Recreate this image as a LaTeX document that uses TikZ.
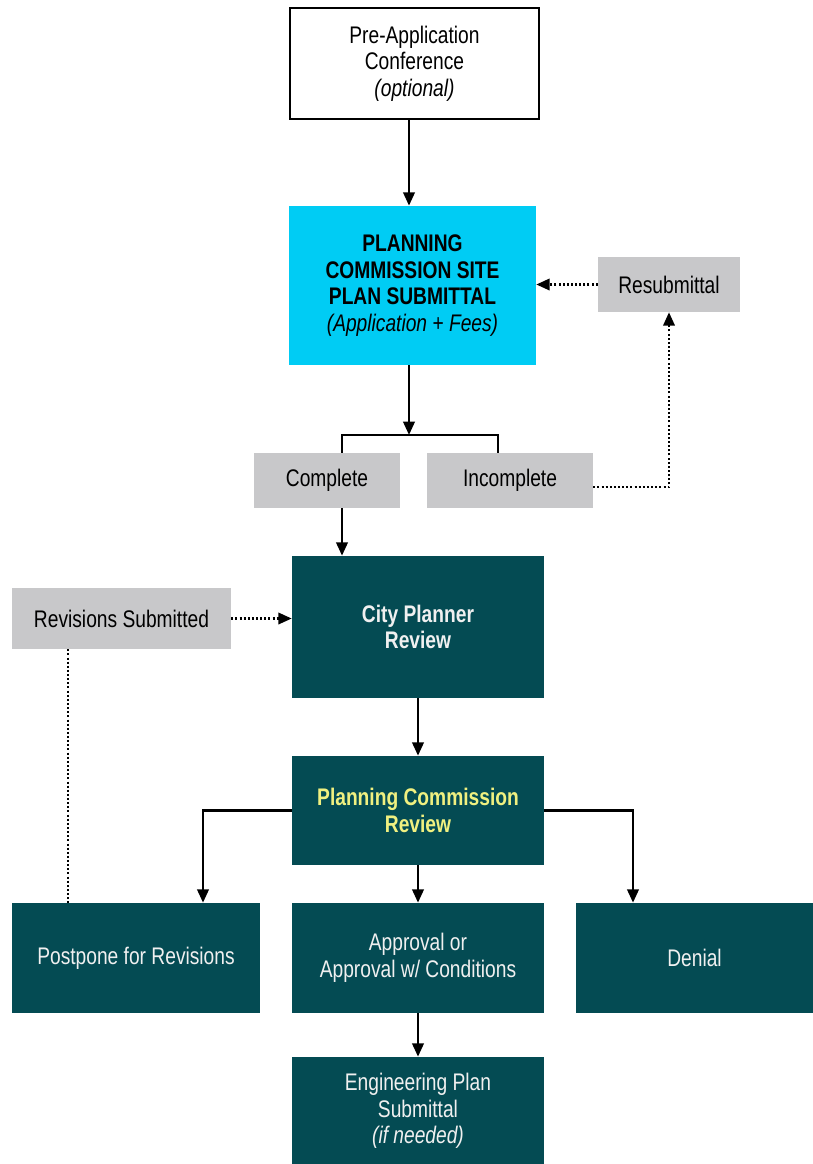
\documentclass[tikz,border=0pt]{standalone}
\usepackage{fontspec}
\setmainfont{Liberation Sans}[FakeStretch=0.8]
\usetikzlibrary{arrows.meta}
\definecolor{subblue}{HTML}{00CCF4}
\definecolor{deepteal}{HTML}{044B53}
\definecolor{boxgray}{HTML}{C8C8CA}
\definecolor{paleyellow}{HTML}{F0F080}
\begin{document}
\begin{tikzpicture}[x=0.75pt,y=-0.75pt,
    every node/.style={align=center,inner sep=0pt,font=\fontsize{18}{20}\selectfont},
    whitebox/.style={draw=black,line width=1.8pt,fill=white},
    bluebox/.style={fill=subblue},
    graybox/.style={fill=boxgray},
    tealbox/.style={fill=deepteal,text=white!94!black},
    arr/.style={line width=2pt,-{Triangle[length=10pt,width=8.5pt]}},
    link/.style={line width=2pt},
    dotarr/.style={line width=1.8pt,dash pattern=on 1.5pt off 1.6pt,-{Triangle[length=10pt,width=8.5pt]}},
    dotlink/.style={line width=1.8pt,dash pattern=on 1.5pt off 1.6pt}]
    \useasboundingbox (0,0) rectangle (813,1164);
    % boxes
    \node[whitebox,minimum width=186.75pt,minimum height=83.25pt] (pre) at (414.5,63.5)
        {Pre-Application\\Conference\\\textit{(optional)}};
    \node[bluebox,minimum width=185.25pt,minimum height=119.25pt] (sub) at (412.5,285.5)
        {\textbf{PLANNING}\\\textbf{COMMISSION SITE}\\\textbf{PLAN SUBMITTAL}\\\textit{(Application + Fees)}};
    \node[graybox,minimum width=106.5pt,minimum height=41.25pt] (resub) at (669,284.5) {Resubmittal};
    \node[graybox,minimum width=109.5pt,minimum height=41.25pt] (comp) at (327,480.5) {Complete};
    \node[graybox,minimum width=124.5pt,minimum height=41.25pt] (incomp) at (510,480.5) {Incomplete};
    \node[tealbox,minimum width=189pt,minimum height=106.5pt] (city) at (418,627)
        {\textbf{City Planner}\\\textbf{Review}};
    \node[graybox,minimum width=164.25pt,minimum height=45.75pt] (revs) at (121.5,618.5) {Revisions Submitted};
    \node[tealbox,text=paleyellow,minimum width=189pt,minimum height=81.75pt] (pcr) at (418,810.5)
        {\textbf{Planning Commission}\\\textbf{Review}};
    \node[tealbox,minimum width=186pt,minimum height=82.5pt] (post) at (136,958) {Postpone for Revisions};
    \node[tealbox,minimum width=189pt,minimum height=82.5pt] (appr) at (418,958)
        {Approval or\\Approval w/ Conditions};
    \node[tealbox,minimum width=177.75pt,minimum height=82.5pt] (den) at (694.5,958) {Denial};
    \node[tealbox,minimum width=189pt,minimum height=81pt] (eng) at (418,1111)
        {Engineering Plan\\Submittal\\\textit{(if needed)}};
    % helper points
    \coordinate (split) at (409,435);
    \coordinate (lft) at (342,435);
    \coordinate (rgt) at (498,435);
    \coordinate (vx) at (68,0);
    \coordinate (pl) at (203,0);
    \coordinate (pr) at (633,0);
    % connectors
    \draw[arr] (pre.south -| split) -- (sub.north -| split);
    \draw[arr] (sub.south -| split) -- (split);
    \draw[link] (lft |- comp.north) -- (lft) -- (rgt) -- (rgt |- incomp.north);
    \draw[arr] (comp.south -| lft) -- (city.north -| lft);
    \draw[dotarr] ([yshift=-5pt]incomp.east) -| (resub.south);
    \draw[dotarr] (resub.west) -- (sub.east |- resub.west);
    \draw[dotarr] (revs.east) -- (city.west |- revs.east);
    \draw[dotlink] (revs.south -| vx) -- (post.north -| vx);
    \draw[arr] (city.south) -- (pcr.north);
    \draw[arr] (pcr.west) -| (pl |- post.north);
    \draw[arr] (pcr.east) -| (pr |- den.north);
    \draw[arr] (pcr.south) -- (appr.north);
    \draw[arr] (appr.south) -- (eng.north);
\end{tikzpicture}
\end{document}
